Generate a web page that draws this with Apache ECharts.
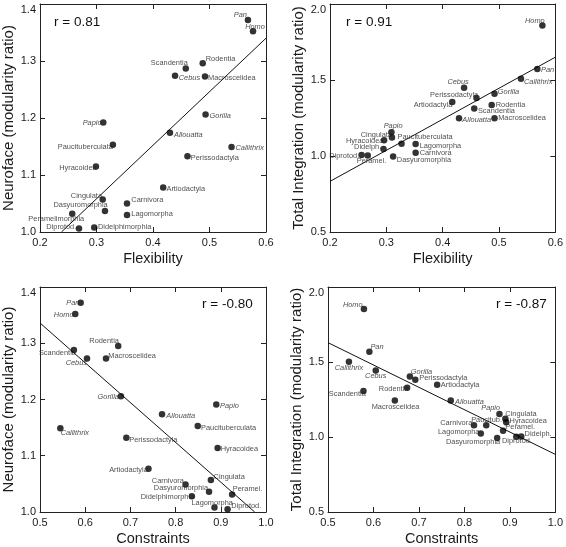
<!DOCTYPE html>
<html><head><meta charset="utf-8">
<script src="https://cdn.jsdelivr.net/npm/echarts@6/dist/echarts.min.js"></script>
<style>html,body{margin:0;padding:0;background:#fff}#c{width:566px;height:547px}</style>
</head><body><div id="c"></div>
<script>
// ---- data ----
const taxa = ['Pan','Homo','Rodentia','Scandentia','Cebus','Macroscelidea','Gorilla','Papio','Allouatta','Paucituberculata','Callithrix','Perissodactyla','Hyracoidea','Artiodactyla','Cingulata','Carnivora','Dasyuromorphia','Peramelimorphia','Lagomorpha','Diprotodontia','Didelphimorphia'];
const italicTaxa = ['Pan','Homo','Cebus','Gorilla','Papio','Allouatta','Callithrix'];

// panel 1: Flexibility vs Neuroface
const p1Flex = [0.568,0.577,0.488,0.458,0.439,0.492,0.493,0.312,0.430,0.329,0.539,0.461,0.299,0.418,0.311,0.354,0.315,0.257,0.354,0.269,0.296];
const p1Neuro = [1.372,1.352,1.296,1.287,1.274,1.273,1.206,1.192,1.174,1.153,1.149,1.133,1.115,1.078,1.057,1.050,1.037,1.032,1.030,1.006,1.008];
// panel 2: Flexibility vs Total Integration
const p2Flex = [0.568,0.577,0.487,0.456,0.438,0.492,0.492,0.309,0.429,0.327,0.539,0.460,0.296,0.417,0.310,0.352,0.312,0.267,0.352,0.256,0.295];
const p2Total = [1.573,1.859,1.335,1.313,1.449,1.249,1.410,1.156,1.249,1.081,1.509,1.381,1.104,1.355,1.121,1.022,0.996,1.004,1.079,1.007,1.046];
// panel 3: Constraints vs Neuroface
const p3Cons = [0.590,0.578,0.673,0.575,0.604,0.646,0.679,0.890,0.770,0.849,0.545,0.691,0.893,0.740,0.878,0.822,0.874,0.925,0.886,0.915,0.836];
const p3Neuro = [1.372,1.352,1.295,1.288,1.273,1.273,1.206,1.191,1.174,1.153,1.149,1.132,1.114,1.077,1.057,1.049,1.036,1.031,1.008,1.005,1.028];
// panel 4: Constraints vs Total Integration
const p4Cons = [0.591,0.579,0.674,0.578,0.605,0.647,0.680,0.877,0.770,0.848,0.546,0.692,0.892,0.740,0.890,0.821,0.872,0.885,0.836,0.914,0.925];
const p4Total = [1.568,1.853,1.329,1.307,1.443,1.243,1.404,1.154,1.243,1.079,1.502,1.382,1.099,1.349,1.121,1.079,0.993,1.042,1.024,1.002,1.004];

// abbreviated labels per panel
const p1Short = {Diprotodontia:'Diprotod.'};
const p2Short = {Didelphimorphia:'Didelph.', Peramelimorphia:'Peramel.', Diprotodontia:'Diprotod.'};
const p3Short = {Peramelimorphia:'Peramel.', Diprotodontia:'Diprotod.'};
const p4Short = {Paucituberculata:'Paucitub.', Peramelimorphia:'Peramel.', Didelphimorphia:'Didelph.', Diprotodontia:'Diprotod.'};

// fitted regression lines (endpoints)
const fit1 = [[0.238,1.0],[0.6,1.340]];
const fit2 = [[0.2,0.833],[0.6,1.650]];
const fit3 = [[0.5,1.336],[0.975,1.0]];
const fit4 = [[0.5,1.629],[1.0,0.884]];

const rLabels = ['r = 0.81','r = 0.91','r = -0.80','r = -0.87'];
const xNames = ['Flexibility','Flexibility','Constraints','Constraints'];
const yNames = ['Neuroface (modularity ratio)','Total Integration (modularity ratio)','Neuroface (modularity ratio)','Total Integration (modularity ratio)'];

// ---- label layout (style): [align, dx, dy] per taxon ----
const L1 = [['r',-1,-5],['c',2,-4.5],['l',3,-4.7],['r',2,-5],['l',3.7,1.7],['l',3,1.7],['l',4,1.7],['r',-1.7,0.3],['l',4,2.3],['r',0,2.3],['l',4,0.7],['l',3.3,1.7],['r',0.7,1.7],['l',3.3,1.7],['r',-0.7,-4],['l',4.3,-3.3],['r',2.7,-6],['r',12,5],['l',4.3,-0.7],['r',-2.7,-1.3],['l',3.7,0]];
const L2 = [['l',3.7,1.3],['r',2.3,-4.7],['l',4,0],['l',3.7,2.7],['r',4.7,-5.7],['l',3.7,0.3],['l',3.3,-2],['c',1.7,-6],['l',3.3,1.3],['l',-4,-6.7],['l',3,3.7],['r',1.7,-3],['r',-0.7,0.3],['r',0,3.3],['r',0,-3],['l',4,0.3],['l',3.7,3.7],['l',-11,5.7],['l',4,2.3],['r',-2.3,0.7],['r',-2.3,-1.7]];
const L3 = [['r',-1.3,0.3],['r',-1.7,1.3],['r',0.7,-4.7],['r',2,3],['r',0,4.3],['l',2.3,-2],['r',-2,0.7],['l',3.7,1.3],['l',4.3,1.7],['l',3.3,1.7],['l',0.3,4.7],['l',3,2.7],['l',3,1.3],['r',-0.7,1.3],['l',2.7,-3],['r',-1.7,-3.3],['r',-1,-3.3],['l',0.7,-5.3],['c',-2.3,-4.7],['l',3.7,-3],['r',2.3,0.3]];
const L4 = [['l',1,-5],['r',-1.3,-4.3],['r',1.3,1],['r',2.3,2.7],['c',0,5.7],['c',0.7,6],['l',1,-4.7],['r',0.7,-5.7],['l',4.3,1],['c',0.3,-5.3],['c',0,6],['l',4,-1.7],['l',3.3,-0.7],['l',3.7,0],['l',0,-5],['r',-1.7,-1.7],['r',3,4],['l',2.3,-4],['r',-1.3,-1],['c',0.7,4.7],['l',3.3,-2.7]];

const grids = [
  {left:38, top:4, width:228, height:228},
  {left:330, top:4, width:227, height:228},
  {left:37, top:287, width:229, height:227},
  {left:328, top:287, width:228, height:227}
];
const xRanges = [[0.2,0.6,0.1],[0.2,0.6,0.1],[0.5,1.0,0.1],[0.5,1.0,0.1]];
const yRanges = [[1.0,1.4,0.1],[0.5,2.0,0.5],[1.0,1.4,0.1],[0.5,2.0,0.5]];
const rPos = [[54,23],[346,23],[202,305],[496,305]];

const REG = "'Liberation Sans',Arial,sans-serif";
const ink = '#1a1a1a';
const alignMap = {l:'left', r:'right', c:'center'};

const xAxes = [], yAxes = [], series = [];
const fmt = v => (Math.round(v*10)/10).toFixed(1);
for (let i=0;i<4;i++){
  const [x0,x1,xi] = xRanges[i], [y0,y1,yi] = yRanges[i];
  const lineStyle = {color:'#222', width:1};
  xAxes.push({type:'value', gridIndex:i, min:x0, max:x1, interval:xi, position:'bottom',
    name:xNames[i], nameLocation:'middle', nameGap:19,
    nameTextStyle:{fontFamily:REG, fontSize:14.5, color:ink},
    axisLine:{show:true, onZero:false, lineStyle}, axisTick:{show:true, inside:true, length:5, lineStyle},
    axisLabel:{show:true, margin:5, fontFamily:REG, fontSize:11, color:ink, formatter:fmt},
    splitLine:{show:false}});
  yAxes.push({type:'value', gridIndex:i, min:y0, max:y1, interval:yi, position:'left',
    name:yNames[i], nameLocation:'middle', nameGap:24, nameRotate:90,
    nameTextStyle:{fontFamily:REG, fontSize:15, color:ink},
    axisLine:{show:true, onZero:false, lineStyle}, axisTick:{show:true, inside:true, length:5, lineStyle},
    axisLabel:{show:true, margin:4, fontFamily:REG, fontSize:11, color:ink, formatter:fmt, verticalAlignMaxLabel:'top'},
    splitLine:{show:false}});
}
for (let i=0;i<4;i++){
  const [x0,x1,xi] = xRanges[i], [y0,y1,yi] = yRanges[i];
  const lineStyle = {color:'#222', width:1};
  xAxes.push({type:'value', gridIndex:i, min:x0, max:x1, interval:xi, position:'top',
    axisLine:{show:true, onZero:false, lineStyle}, axisTick:{show:true, inside:true, length:5, lineStyle},
    axisLabel:{show:false}, splitLine:{show:false}});
  yAxes.push({type:'value', gridIndex:i, min:y0, max:y1, interval:yi, position:'right',
    axisLine:{show:true, onZero:false, lineStyle}, axisTick:{show:true, inside:true, length:5, lineStyle},
    axisLabel:{show:false}, splitLine:{show:false}});
}

const panels = [
  {xs:p1Flex, ys:p1Neuro, short:p1Short, L:L1, fit:fit1},
  {xs:p2Flex, ys:p2Total, short:p2Short, L:L2, fit:fit2},
  {xs:p3Cons, ys:p3Neuro, short:p3Short, L:L3, fit:fit3},
  {xs:p4Cons, ys:p4Total, short:p4Short, L:L4, fit:fit4}
];
panels.forEach((p,i)=>{
  series.push({type:'line', xAxisIndex:i, yAxisIndex:i, data:p.fit, symbol:'none', silent:true,
    lineStyle:{color:'#111', width:1}, clip:true, animation:false, z:1});
  series.push({type:'scatter', xAxisIndex:i, yAxisIndex:i, symbol:'circle', symbolSize:6.5,
    itemStyle:{color:'#000'}, animation:false, z:3,
    data: taxa.map((t,k)=>{
      const [a,dx,dy] = p.L[k];
      return {value:[p.xs[k], p.ys[k]], name:t,
        label:{show:true, position:'inside', align:alignMap[a], verticalAlign:'middle', offset:[dx,dy],
          formatter: p.short[t] || t, fontFamily:REG, fontSize:7.4, color:'#222',
          fontStyle: italicTaxa.includes(t) ? 'italic' : 'normal'}};
    })
  });
});

const graphic = rLabels.map((t,i)=>({type:'text', left:rPos[i][0], top:rPos[i][1]-8,
  style:{text:t, font:"13.5px 'Liberation Sans',Arial,sans-serif", fill:'#111'}}));

const chart = echarts.init(document.getElementById('c'), null, {renderer:'canvas'});
chart.setOption({animation:false, backgroundColor:'#fff', grid:grids, xAxis:xAxes, yAxis:yAxes, series, graphic});
</script></body></html>
